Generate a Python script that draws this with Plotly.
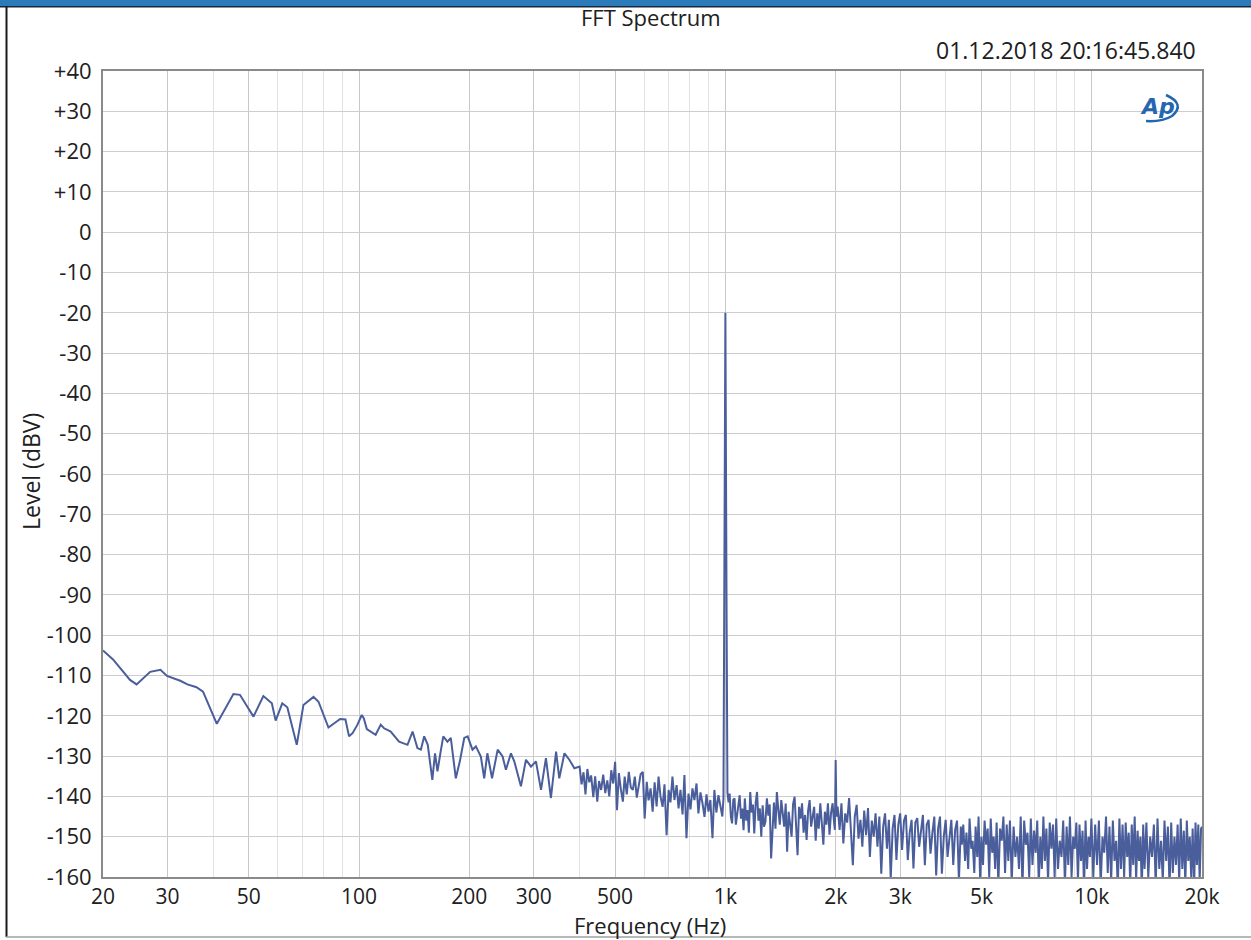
import math
import plotly.graph_objects as go

# ---- data (frequency in Hz, level in dBV) ----
freq_low = [20, 21.3, 23.7, 24.7, 26.9, 28.7, 29.9, 32.5, 34.0, 36.0, 37.5, 40.9, 45.4, 47.3,
            51.5, 54.8, 57.8, 59.2, 61.7, 63.7, 67.6, 70.5, 75.1, 77.5, 82.5, 88.8, 91.8]
level_low = [-103.8, -106.0, -111.1, -112.2, -109.1, -108.6, -110.1, -111.3, -112.2, -112.9, -114.0,
             -122.0, -114.6, -114.8, -120.2, -115.1, -116.9, -121.2, -116.9, -117.9, -127.2, -117.3,
             -115.3, -116.5, -122.9, -120.8, -120.9]

freq_b = [93.9, 96, 99, 101.7, 103, 105, 108.7, 111, 114.6, 117,
          119.5, 122, 128.6, 132.7, 135.6, 140, 144.3, 147.5, 150.6, 154,
          158.5, 161.2, 163.7, 167, 169.8, 174.3, 178, 183.7, 188.4, 193.7,
          197.9, 204, 208.4, 215, 219.6, 224, 230.7, 239, 246.5, 251.7,
          259.8, 265.3, 276.6, 285.5, 294.7, 304, 313.8, 323.7, 334, 345,
          352, 363.6, 375, 387]
level_b = [-125.1, -124.3, -122.2, -119.8, -120.6, -123.3, -124.1, -124.7, -122.2, -123.1,
           -123.5, -123.9, -126.4, -126.8, -127.2, -123.9, -128.0, -128.4, -125.1, -127.2,
           -135.9, -129.3, -133.8, -128.9, -125.1, -126.4, -125.5, -135.5, -131.3, -125.5,
           -125.1, -128.4, -127.6, -130.1, -135.5, -129.3, -135.5, -128.4, -130.1, -133.4,
           -129.3, -131.3, -137.5, -130.9, -132.6, -131.3, -138.4, -130.5, -140.4, -128.9,
           -135.5, -129.3, -130.9, -133.0]

# 400 Hz .. 1 kHz, including the 1 kHz tone
freq_c = [400, 405, 410, 415, 420, 425, 430, 436, 441, 447,
          452, 458, 464, 470, 476, 482, 488, 494, 500, 506,
          512, 518, 525, 531, 538, 545, 552, 559, 566, 573,
          580, 587, 595, 602, 610, 617, 625, 633, 641, 649,
          657, 665, 674, 682, 691, 700, 708, 717, 726, 736,
          745, 754, 764, 773, 783, 793, 803, 813, 823, 834,
          844, 855, 866, 877, 888, 899, 910, 922, 933, 945,
          957, 969, 981, 988, 993, 1000, 1007]
level_c = [-132.6, -137.0, -134.0, -139.5, -133.2, -136.5, -134.8, -140.2, -135.0, -141.3,
           -136.2, -138.4, -134.6, -139.2, -136.0, -140.0, -133.5, -136.8, -131.4, -143.4,
           -134.2, -138.0, -141.3, -135.1, -139.5, -133.9, -137.8, -138.4, -135.1, -140.3,
           -137.6, -134.5, -133.9, -145.5, -136.4, -141.0, -138.0, -143.8, -136.5, -142.5,
           -135.1, -140.0, -142.6, -137.0, -149.6, -138.4, -141.5, -135.1, -140.9, -137.2,
           -143.0, -138.4, -144.5, -134.7, -150.4, -139.3, -143.2, -138.0, -140.9, -136.8,
           -144.2, -139.0, -141.7, -145.1, -139.5, -143.8, -140.9, -150.4, -138.4, -144.0,
           -139.7, -142.6, -145.0, -140.5, -90.0, -20.0, -90.0]

# 1 kHz .. 2 kHz, including the 2 kHz harmonic
freq_d = [1013, 1020, 1027, 1035, 1043, 1051, 1059, 1068, 1076, 1085,
          1094, 1103, 1112, 1121, 1130, 1140, 1149, 1159, 1169, 1179,
          1189, 1199, 1210, 1220, 1231, 1242, 1253, 1264, 1275, 1286,
          1298, 1310, 1321, 1333, 1345, 1357, 1370, 1382, 1395, 1408,
          1421, 1434, 1447, 1461, 1474, 1488, 1502, 1516, 1530, 1545,
          1559, 1574, 1589, 1604, 1619, 1635, 1650, 1666, 1682, 1698,
          1714, 1731, 1747, 1764, 1781, 1798, 1816, 1833, 1851, 1869,
          1887, 1905, 1924, 1943, 1962, 1978, 1990, 2000, 2010]
level_d = [-139.0, -141.5, -139.3, -145.0, -146.7, -140.8, -140.5, -147.0, -144.6, -141.0,
           -139.7, -145.5, -143.0, -148.4, -140.5, -146.0, -143.4, -149.0, -138.9, -144.0,
           -142.0, -149.2, -141.5, -138.9, -146.0, -143.0, -150.0, -142.2, -147.5, -146.3,
           -140.5, -144.8, -142.0, -155.4, -146.7, -141.5, -148.0, -138.9, -143.4, -147.0,
           -140.9, -144.5, -147.5, -141.8, -153.7, -143.8, -146.5, -150.0, -142.0, -140.1,
           -147.0, -154.6, -142.6, -145.5, -141.7, -149.0, -144.6, -150.8, -143.5, -140.9,
           -147.5, -145.0, -142.6, -151.0, -144.2, -148.0, -141.7, -146.5, -152.0, -143.8,
           -147.0, -141.7, -149.5, -144.0, -141.7, -146.0, -148.3, -131.0, -145.0]

# 2 kHz .. 4.4 kHz
freq_e = [2025, 2050, 2074, 2099, 2124, 2150, 2176, 2202, 2228, 2255,
          2282, 2309, 2337, 2365, 2393, 2422, 2451, 2480, 2510, 2540,
          2570, 2601, 2632, 2664, 2696, 2728, 2761, 2794, 2827, 2861,
          2895, 2930, 2965, 3000, 3036, 3073, 3110, 3147, 3185, 3223,
          3261, 3300, 3340, 3380, 3420, 3461, 3503, 3545, 3587, 3630,
          3674, 3718, 3762, 3807, 3853, 3899, 3946, 3993, 4041, 4089,
          4138, 4188, 4238, 4289, 4340, 4392, 4420]
level_e = [-142.5, -148.3, -141.7, -151.7, -144.2, -146.5, -140.4, -149.0, -157.1, -145.0,
           -142.1, -150.5, -145.8, -152.5, -143.5, -149.6, -142.9, -155.0, -146.0, -150.0,
           -144.2, -152.5, -145.0, -159.2, -147.5, -144.2, -153.0, -145.8, -160.5, -148.0,
           -144.6, -155.8, -147.0, -144.2, -153.3, -146.0, -144.6, -155.8, -149.0, -145.8,
           -157.9, -146.5, -145.4, -152.5, -148.5, -144.6, -157.1, -147.0, -145.8, -154.2,
           -149.0, -145.0, -159.6, -148.0, -145.0, -159.2, -150.0, -145.8, -155.0, -149.6,
           -145.8, -157.0, -148.3, -146.0, -161.0, -147.5, -152.0]

# 4.4 kHz .. 20 kHz
freq_f = [4460, 4510, 4550, 4600, 4640, 4690, 4730, 4780, 4820, 4870, 4910, 4960, 5000,
          5050, 5100, 5150, 5200, 5250, 5300, 5350, 5400, 5450, 5500, 5560, 5620, 5680, 5740, 5800, 5860, 5920, 5980,
          6050, 6120, 6190, 6260, 6330, 6400, 6470, 6540, 6610, 6680, 6750, 6820, 6890, 6960, 7030, 7100,
          7170, 7240, 7310, 7380, 7450, 7520, 7600, 7680, 7760, 7840, 7920,
          8000, 8090, 8180, 8270, 8360, 8450, 8540, 8630, 8720, 8810, 8900, 8990, 9080, 9170, 9260, 9350,
          9440, 9530, 9620, 9710, 9800, 9890, 9980,
          10100, 10220, 10340, 10460, 10580, 10700, 10820, 10940, 11060, 11180, 11300, 11420, 11540, 11660,
          11780, 11900, 12020, 12140, 12260, 12380, 12500, 12620, 12740, 12860, 12980, 13100, 13220, 13340,
          13460, 13580, 13700, 13820, 13940,
          14100, 14270, 14440, 14610, 14780, 14950, 15120, 15290, 15460, 15630, 15800, 15970, 16140, 16310,
          16480, 16650, 16820, 16990, 17160, 17330, 17500, 17670, 17840, 18010, 18180, 18350, 18520, 18690,
          18860, 19030, 19200, 19370, 19540, 19710, 19880, 20000]
level_f = [-147, -156, -149, -158, -145.5, -153, -151, -159, -147.5, -155, -145, -161, -150,
           -157, -146, -152, -148, -160, -145.5, -154, -150, -158, -146.5, -162, -148, -151, -145, -159, -147, -156, -146,
           -161, -147.5, -155, -150, -158, -145, -163, -146, -152, -149, -160, -145.5, -157, -148.5, -154, -146,
           -162, -150, -158, -145, -156, -148, -161, -146.5, -153, -147, -160,
           -145.5, -158, -151, -155, -146, -162, -147.5, -157, -145, -160, -150, -153, -146.5, -161, -147, -156,
           -148.5, -163, -146, -158, -150, -155, -145.5,
           -160, -147, -157, -146, -162, -150, -154, -145, -159, -147.5, -161, -146, -156, -151,
           -163, -145.5, -158, -147, -160, -146.5, -155, -149, -162, -147, -157, -145, -161, -148.5,
           -156, -150, -163, -147, -158,
           -146.5, -160, -150, -155, -147, -162, -145.5, -158, -151, -161, -146, -156, -147.5, -163,
           -146.5, -159, -150, -157, -147, -161, -145.5, -158, -148.5, -162, -146, -156, -150, -160,
           -148, -163, -146.5, -157, -147, -161, -148, -147.5]

x_tick_vals = [20, 30, 50, 100, 200, 300, 500, 1000, 2000, 3000, 5000, 10000, 20000]
x_tick_text = ["20", "30", "50", "100", "200", "300", "500", "1k", "2k", "3k", "5k", "10k", "20k"]
x_minor_vals = [40, 60, 70, 80, 90, 400, 600, 700, 800, 900, 4000, 6000, 7000, 8000, 9000]
y_tick_vals = [40, 30, 20, 10, 0, -10, -20, -30, -40, -50, -60, -70, -80, -90, -100,
               -110, -120, -130, -140, -150, -160]
y_tick_text = ["+40", "+30", "+20", "+10", "0", "-10", "-20", "-30", "-40", "-50", "-60", "-70",
               "-80", "-90", "-100", "-110", "-120", "-130", "-140", "-150", "-160"]

freqs = freq_low + freq_b + freq_c + freq_d + freq_e + freq_f
levels = level_low + level_b + level_c + level_d + level_e + level_f

# ---- layout geometry (pixels) ----
W, H = 1251, 940
L, R, T, B = 103, 1202, 71, 877
PW, PH = R - L, B - T


def xp(px):
    return (px - L) / PW


def yp(py):
    return (B - py) / PH


FONT = "Open Sans"
TXT = "#202020"
FS = 22
LOGO = "#2466b0"

fig = go.Figure()
fig.add_trace(go.Scatter(x=freqs, y=levels, mode="lines",
                         line=dict(color="#4a5e9c", width=2.0), hoverinfo="skip"))

fig.update_layout(
    width=W, height=H,
    margin=dict(l=L, r=W - R, t=T, b=H - B),
    paper_bgcolor="white", plot_bgcolor="white",
    showlegend=False,
    font=dict(family=FONT, size=FS, color=TXT),
    xaxis=dict(type="log", range=[math.log10(20), math.log10(20000)],
               tickmode="array", tickvals=x_tick_vals, ticktext=x_tick_text,
               showgrid=True, gridcolor="#c8c8c8", gridwidth=1,
               minor=dict(tickmode="array", tickvals=x_minor_vals, showgrid=True,
                          gridcolor="#e2e2e2", gridwidth=1, ticks=""),
               showline=True, linecolor="#8a8a8a", linewidth=2, mirror=True,
               ticks="", zeroline=False, ticklabelstandoff=0,
               tickfont=dict(family=FONT, size=21, color=TXT)),
    yaxis=dict(range=[-160, 40], tickmode="array", tickvals=y_tick_vals, ticktext=y_tick_text,
               showgrid=True, gridcolor="#cdcdcd", gridwidth=1,
               showline=True, linecolor="#8a8a8a", linewidth=2, mirror=True,
               ticks="", zeroline=False, ticklabelstandoff=5,
               tickfont=dict(family=FONT, size=FS, color=TXT)),
    shapes=[
        dict(type="rect", xref="paper", yref="paper", x0=xp(0), x1=xp(W), y0=yp(6), y1=yp(0),
             fillcolor="#2b7bba", line=dict(width=0), layer="above"),
        dict(type="rect", xref="paper", yref="paper", x0=xp(0), x1=xp(W), y0=yp(7.5), y1=yp(6),
             fillcolor="#17283a", line=dict(width=0), layer="above"),
        dict(type="line", xref="paper", yref="paper", x0=xp(6.5), x1=xp(6.5), y0=yp(937), y1=yp(6),
             line=dict(color="#1a1a1a", width=2), layer="above"),
        dict(type="line", xref="paper", yref="paper", x0=xp(6), x1=xp(W), y0=yp(937), y1=yp(937),
             line=dict(color="#a0a0a0", width=1.5), layer="above"),
        # AP logo swoosh
        dict(type="path", xref="paper", yref="paper",
             path="M %f,%f Q %f,%f %f,%f Q %f,%f %f,%f" % (
                 xp(1166), yp(95), xp(1186), yp(104), xp(1172), yp(116),
                 xp(1162), yp(122), xp(1146), yp(121)),
             line=dict(color=LOGO, width=2.5), layer="above"),
    ],
    annotations=[
        dict(text="FFT Spectrum", xref="paper", yref="paper", x=xp(651), y=yp(17),
             xanchor="center", yanchor="middle", showarrow=False,
             font=dict(family=FONT, size=FS, color=TXT)),
        dict(text="01.12.2018 20:16:45.840", xref="paper", yref="paper", x=xp(1198), y=yp(50),
             xanchor="right", yanchor="middle", showarrow=False,
             font=dict(family=FONT, size=23, color=TXT)),
        dict(text="Frequency (Hz)", xref="paper", yref="paper", x=xp(650), y=yp(925),
             xanchor="center", yanchor="middle", showarrow=False,
             font=dict(family=FONT, size=FS, color=TXT)),
        dict(text="Level (dBV)", xref="paper", yref="paper", x=xp(31), y=yp(472),
             xanchor="center", yanchor="middle", showarrow=False, textangle=-90,
             font=dict(family=FONT, size=23, color=TXT)),
        dict(text="<b><i>Ap</i></b>", xref="paper", yref="paper", x=xp(1157), y=yp(106),
             xanchor="center", yanchor="middle", showarrow=False,
             font=dict(family="DejaVu Sans", size=22, color=LOGO)),
    ],
)

fig.write_html("out.html", config={"displayModeBar": False},
               post_script="document.body.style.margin='0';document.body.style.overflow='hidden';")
